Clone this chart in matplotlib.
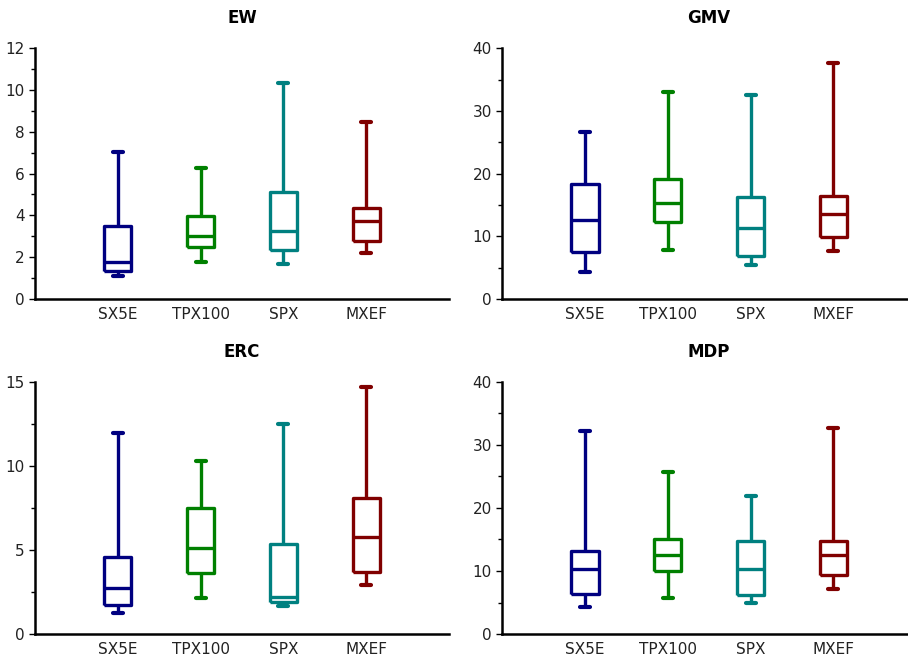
import matplotlib
matplotlib.use("Agg")
import matplotlib.pyplot as plt
from matplotlib.ticker import MultipleLocator

indices = ["SX5E", "TPX100", "SPX", "MXEF"]
colors = ["#000080", "#008000", "#008080", "#800000"]

# five-number summaries per strategy: low whisker, q1, median, q3, high whisker
ew_lo = [1.08, 1.78, 1.67, 2.20]
ew_q1 = [1.32, 2.49, 2.36, 2.79]
ew_med = [1.78, 3.00, 3.27, 3.71]
ew_q3 = [3.47, 3.97, 5.10, 4.37]
ew_hi = [7.01, 6.29, 10.33, 8.45]

gmv_lo = [4.29, 7.79, 5.35, 7.68]
gmv_q1 = [7.47, 12.29, 6.78, 9.91]
gmv_med = [12.56, 15.31, 11.28, 13.56]
gmv_q3 = [18.38, 19.07, 16.21, 16.48]
gmv_hi = [26.65, 33.06, 32.58, 37.62]

erc_lo = [1.23, 2.17, 1.69, 2.92]
erc_q1 = [1.71, 3.62, 1.93, 3.72]
erc_med = [2.72, 5.09, 2.19, 5.78]
erc_q3 = [4.57, 7.51, 5.34, 8.09]
erc_hi = [11.94, 10.31, 12.50, 14.68]

mdp_lo = [4.34, 5.67, 4.87, 7.15]
mdp_q1 = [6.30, 10.01, 6.15, 9.32]
mdp_med = [10.38, 12.61, 10.28, 12.61]
mdp_q3 = [13.14, 15.15, 14.73, 14.83]
mdp_hi = [32.16, 25.64, 21.83, 32.69]

panels = [
    ("EW", (ew_lo, ew_q1, ew_med, ew_q3, ew_hi), 12, 2),
    ("GMV", (gmv_lo, gmv_q1, gmv_med, gmv_q3, gmv_hi), 40, 10),
    ("ERC", (erc_lo, erc_q1, erc_med, erc_q3, erc_hi), 15, 5),
    ("MDP", (mdp_lo, mdp_q1, mdp_med, mdp_q3, mdp_hi), 40, 10),
]

# axes rectangles [left, bottom, width, height] in figure fractions
rects = [
    [0.0385, 0.5435, 0.456, 0.383],
    [0.553, 0.5435, 0.456, 0.383],
    [0.0385, 0.032, 0.456, 0.385],
    [0.553, 0.032, 0.456, 0.385],
]

fig = plt.figure(figsize=(9.08, 6.55), dpi=100)

for (title, (lo, q1, med, q3, hi), ymax, step), rect in zip(panels, rects):
    ax = fig.add_axes(rect)
    for i, name in enumerate(indices):
        stats = [{"whislo": lo[i], "q1": q1[i], "med": med[i], "q3": q3[i],
                  "whishi": hi[i], "label": name}]
        c = colors[i]
        lp = dict(color=c, linewidth=2.4, solid_capstyle="butt")
        ax.bxp(stats, positions=[i + 1], widths=0.33, showfliers=False,
               boxprops=lp, whiskerprops=lp, medianprops=lp,
               capprops=dict(color=c, linewidth=3, solid_capstyle="round"),
               capwidths=0.12, manage_ticks=False)
    ax.set_xlim(0, 5)
    ax.set_ylim(0, ymax)
    ax.set_xticks(range(1, 5))
    ax.set_xticklabels(indices)
    ax.yaxis.set_major_locator(MultipleLocator(step))
    ax.yaxis.set_minor_locator(MultipleLocator(step / 2))
    ax.tick_params(axis="x", length=0, pad=6, labelsize=11, colors="#222222")
    ax.tick_params(axis="y", which="major", length=4, width=1, labelsize=11,
                   labelcolor="#222222")
    ax.tick_params(axis="y", which="minor", length=3, width=1)
    for s in ["top", "right"]:
        ax.spines[s].set_visible(False)
    for s in ["left", "bottom"]:
        ax.spines[s].set_linewidth(1.8)
    ax.set_title(title, fontsize=12, fontweight="bold", pad=18)

fig.savefig("out.png", dpi=100)
